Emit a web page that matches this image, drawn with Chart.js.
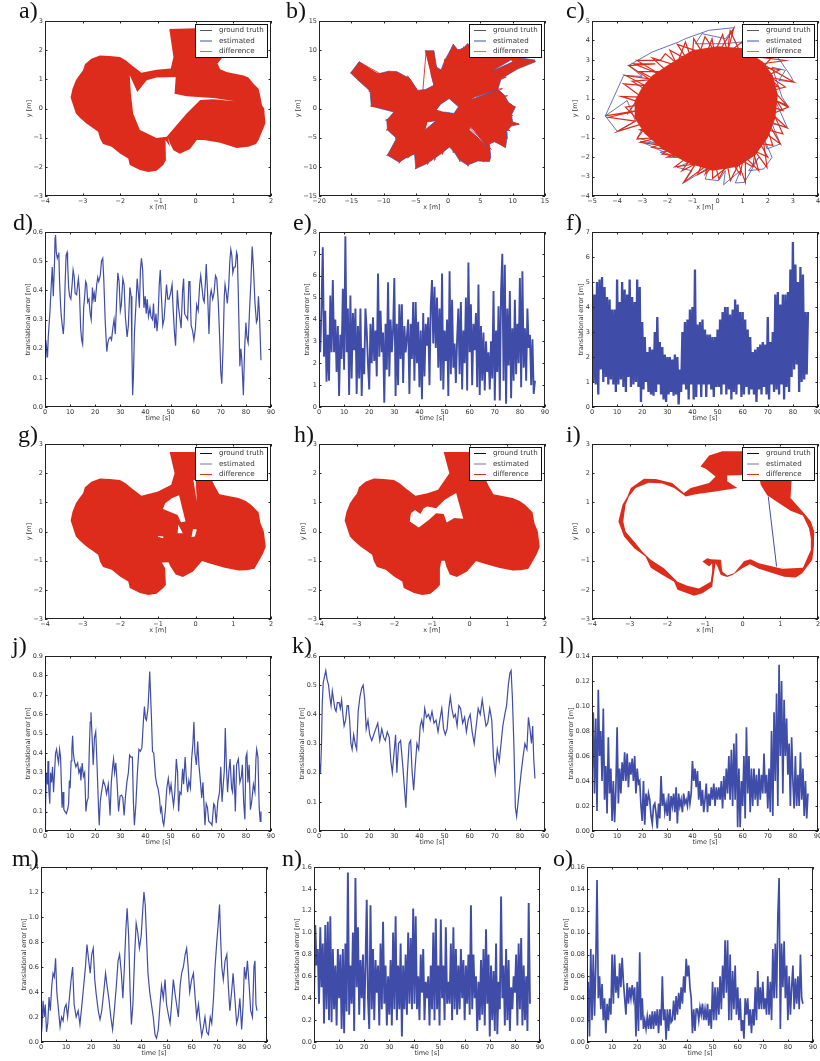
<!DOCTYPE html>
<html><head><meta charset="utf-8">
<script src="https://cdn.jsdelivr.net/npm/chart.js@4"></script>
<style>
html,body{margin:0;padding:0;background:#fff}
#page{position:relative;width:820px;height:1061px;overflow:hidden}
canvas{position:absolute}
.tag{position:absolute;font:24px/24px "Liberation Serif",serif;color:#111;white-space:nowrap}
</style></head><body><div id="page"></div>
<script>
const LEGEND_LABELS=['ground truth','estimated','difference'];
const AXIS_TIME='time [s]',AXIS_ERR='translational error [m]',AXIS_X='x [m]',AXIS_Y='y [m]';
const T_END=86;

const LEFT_LOBE=[[-0.86,-1.94],[-1.04,-2.13],[-1.26,-2.18],[-1.48,-2.11],[-1.75,-1.94],[-1.79,-1.71],[-2.01,-1.54],[-2.23,-1.31],[-2.46,-1.22],[-2.54,-1.03],[-2.59,-0.80],[-2.72,-0.68],[-2.90,-0.51],[-3.08,-0.31],[-3.18,-0.17],[-3.32,0.38],[-3.27,0.68],[-3.18,0.97],[-3.09,1.14],[-2.99,1.31],[-2.94,1.52],[-2.77,1.71],[-2.54,1.82],[-2.28,1.80],[-2.01,1.77],[-1.85,1.65],[-1.70,1.48],[-1.44,1.23]];
const A_OUTER=[[-0.70,2.73],[0.03,2.75],[0.72,2.75],[0.72,1.77],[0.58,1.54],[0.65,1.35],[0.82,1.25],[1.27,1.13],[1.40,1.06],[1.53,0.86],[1.67,0.68],[1.71,0.46],[1.76,0.11],[1.82,0],[1.85,-0.51],[1.76,-0.80],[1.67,-1.08],[1.60,-1.22],[1.40,-1.31],[1.09,-1.35],[0.65,-1.17],[0.22,-1.08],[0.03,-1.08],[-0.15,-1.39],[-0.42,-1.55],[-0.59,-1.43],[-0.68,-1.20],[-0.74,-0.99],[-0.68,-1.31],[-0.80,-1.08],[-0.79,-1.77],...LEFT_LOBE,[-1.04,1.33],[-0.66,1.37],[-0.59,1.77]];
const A_HOLE=[[-1.75,1.14],[-1.55,0.57],[-1.30,0.97],[-1.04,1.06],[-0.53,1.08],[-0.56,0.51],[-0.24,0.42],[0.47,0.36],[1.05,0.25],[0.47,0.32],[0.12,0.29],[-0.24,-0.17],[-0.77,-0.97],[-1.04,-1.01],[-1.48,-0.74],[-1.66,-0.17],[-1.72,0.51]];

const B_OUTER=[[-3.6,9.9],[-2.2,9.9],[-1.8,7.1],[-1.1,6.6],[-0.5,8.3],[0.05,9.4],[0.8,11.0],[1.55,10.0],[2.4,10.4],[3.0,11.1],[4.6,10.0],[6.1,9.7],[8.7,9.1],[13.4,8.3],[13.5,8.0],[10.8,6.8],[8.2,5.1],[7.7,3.3],[8.7,2.3],[9.3,1.1],[10.4,0.2],[9.8,-1.1],[10.0,-2.3],[11.0,-2.7],[9.8,-3.0],[9.0,-4.0],[9.1,-5.1],[8.9,-6.6],[7.2,-5.7],[6.4,-6.1],[6.6,-8.3],[6.4,-9.1],[4.6,-9.0],[3.0,-9.7],[1.7,-8.8],[0.9,-7.4],[0.2,-6.6],[-0.9,-7.6],[-3.2,-9.4],[-5.0,-10.3],[-5.2,-7.8],[-6.3,-8.3],[-7.6,-9.2],[-9.4,-8.0],[-8.0,-5.1],[-9.4,-3.7],[-9.5,-2.0],[-8.4,-0.6],[-11.9,0.4],[-12.1,3.0],[-14.2,5.1],[-15.1,6.1],[-13.8,8.0],[-11.0,5.9],[-9.2,6.4],[-7.9,6.3],[-5.9,5.1],[-4.8,3.1],[-3.5,3.25],[-2.2,4.0],[-2.7,6.0]];
const B_HOLE=[[-1.8,-0.2],[-1.15,0.75],[0.15,1.7],[1.6,0.3],[0.9,-0.85],[-0.6,-0.6]];
const B_GAP_1=[[-3.2,-2.3],[-1.9,-2.1],[-3.5,-3.6]];
const B_GAP_2=[[3.5,1.5],[7.7,3.25],[4.3,2.0]];
const B_GAP_3=[[3.5,-3.1],[6.1,-6.6],[3.3,-3.7]];
const B_GAP_4=[[9.7,8.3],[6.6,6.3],[10.0,8.0]];
const B_RAYS=[[-15.1,6.1],[-10,4],[-14,7.6],[-9,4.5],[-13.8,8],[-9,5],[-12.5,6.8],[-8,4],[-10.5,6],[-7,3.5],[-9.2,6.4],[-6.5,3],[-8,6.3],[-5,2],[-6.3,5.6],[-4,2],[-3.4,9.9],[-2,3],[-2.5,9.9],[-1,3],[-0.5,8.5],[0,3],[0.8,11],[0.5,3],[1.6,10.2],[1,3],[2.4,10.6],[1.5,3],[3,11.1],[2,3],[4.6,10.3],[3,3],[6,9.9],[4,3],[8.5,9.3],[5,3.5],[11,8.8],[5,4],[13.4,8.3],[5.5,4.5],[9.0,5.4],[4,3],[8.4,3.4],[4,1],[9.2,2.2],[4,.5],[10.4,.3],[4,0],[10,-1.2],[4,-.5],[11,-2.7],[4,-1.2],[9.6,-3.8],[4,-2],[9.2,-5.1],[3,-2],[8.9,-6.7],[3,-3],[6.7,-7],[3,-3.5],[6.6,-8.5],[2.5,-3],[5.5,-9.2],[2,-3],[3.1,-9.9],[1.5,-3],[1.8,-9.1],[1,-3],[0.8,-7.6],[.5,-3],[-.9,-7.9],[-.5,-3],[-2.1,-8.9],[-1,-3],[-3.2,-9.6],[-1.5,-3.5],[-5.1,-10.4],[-2,-4.5],[-6.3,-8.5],[-4,-4],[-7.6,-9.4],[-5,-3],[-9.5,-8.1],[-5,-2],[-8.2,-5.2],[-5,-1.5],[-9.6,-3.7],[-5,-1],[-9.7,-2],[-5,0],[-12,0.4],[-5,1],[-12.3,3],[-5,1.5],[-14,5],[-5,2],[-15.1,6.1]];

const C_CORE=[[-3.3,0.9],[-3.0,1.6],[-2.6,2.2],[-1.9,2.8],[-1.0,3.5],[0,3.7],[1.0,3.6],[1.8,2.9],[2.2,2.2],[2.4,1.2],[2.3,0],[2.0,-1.0],[1.5,-1.9],[0.8,-2.5],[-0.2,-2.7],[-1.2,-2.3],[-2.2,-1.6],[-2.9,-0.8],[-3.3,0]];
const C_ESTIMATED=[[-4.47,0.12],[-4.0,-0.67],[-3.27,-0.15],[-3.6,0.91],[-4.47,0.12],[-3.74,2.2],[-3.0,2.15],[-3.54,2.71],[-2.61,3.4],[-1.55,3.92],[-1.28,4.09],[-0.35,4.52],[0.67,4.66],[0.31,4.09],[-0.62,4.35],[-0.88,3.83],[0.18,3.83],[0.97,3.92],[1.11,3.4],[1.64,3.83],[2.44,3.06],[2.9,2.2],[3.03,1.86],[2.44,1.94],[2.7,2.46],[2.17,2.63],[2.57,1.08],[2.81,0.6],[2.3,0.91],[2.77,-0.46],[2.17,-0.29],[2.5,-1.32],[1.97,-1.58],[1.77,-0.81],[2.17,-2.01],[1.84,-2.61],[1.24,-2.7],[1.64,-2.01],[1.07,-3.3],[0.71,-3.33],[0.91,-2.7],[0.24,-3.42],[0.31,-2.7],[0.04,-3.21],[-0.49,-3.13],[-0.35,-2.53],[-1.35,-3.33],[-1.02,-2.7],[-1.61,-2.53],[-1.15,-2.27],[-1.95,-1.67],[-2.28,-1.75],[-1.68,-2.01],[-3.07,-1.19],[-2.34,-1.32],[-3.2,-1.01],[-2.88,-0.29],[-3.27,-0.03]];
const C_DIFFERENCE=[[-4.47,0.12],[-3.14,0.4],[-4.34,0.05],[-3.27,-0.15],[-3.97,-0.67],[-3.01,-0.29],[-3.67,0.57],[-2.88,0.74],[-3.83,1.12],[-3.01,1.08],[-3.74,1.77],[-2.88,1.68],[-3.67,2.2],[-2.74,2.03],[-3.54,2.71],[-2.48,2.8],[-3.34,2.8],[-2.34,2.29],[-3.21,2.97],[-2.28,2.97],[-2.08,3.32],[-1.61,2.8],[-1.28,3.92],[-1.02,2.97],[-0.95,4.09],[-0.49,3.14],[-0.22,4.09],[-0.09,3.14],[0.64,4.6],[0.38,3.32],[0.97,3.92],[1.11,3.23],[2.7,2.97],[1.77,2.8],[3.03,1.86],[2.04,2.11],[2.44,1.6],[1.97,1.77],[2.77,0.65],[2.04,1.08],[2.81,0.57],[2.17,0.22],[2.77,-0.5],[1.97,-0.12],[2.5,-1.32],[1.77,-0.64],[1.97,-2.53],[1.37,-1.49],[1.64,-2.7],[1.11,-2.01],[1.11,-3.3],[0.84,-2.35],[0.51,-3.21],[0.38,-2.35],[0.05,-3.13],[-0.09,-2.35],[-0.49,-2.87],[-0.35,-2.35],[-1.35,-3.3],[-0.88,-2.35],[-1.42,-2.7],[-1.02,-2.01],[-2.21,-1.84],[-1.81,-1.49],[-3.07,-1.24],[-2.34,-0.98],[-3.21,-1.07],[-2.88,-0.46]];
const C_DIFFERENCE_2=[[-3.6,0.2],[-2.9,1.5],[-3.4,1.9],[-2.5,2.0],[-3.1,2.4],[-2.0,2.4],[-2.6,3.1],[-1.6,2.7],[-1.9,3.5],[-1.2,3.0],[-1.6,3.8],[-0.7,3.4],[-0.5,4.2],[-0.1,3.4],[0.2,4.3],[0.4,3.4],[0.5,4.5],[0.9,3.4],[1.3,4.1],[1.4,3.1],[2.2,3.2],[1.8,2.6],[2.5,2.5],[2.0,2.2],[2.7,1.6],[2.1,1.4],[2.6,0.4],[2.1,0.6],[2.6,-0.8],[2.0,-0.6],[2.2,-1.4],[1.7,-1.3],[2.0,-2.0],[1.5,-1.7],[1.4,-2.5],[1.0,-2.2],[0.9,-2.9],[0.6,-2.3],[-0.2,-3.1],[-0.2,-2.5],[-0.8,-2.9],[-0.6,-2.3],[-1.7,-2.5],[-1.2,-2.0],[-2.0,-2.0],[-1.5,-1.7],[-2.6,-1.5],[-2.0,-1.2],[-3.1,-0.6],[-2.6,-0.5]];

const G_OUTER=[[-0.69,2.73],[0.56,2.73],[0.43,1.77],[0.51,1.55],[0.63,1.28],[1.14,1.15],[1.33,1.05],[1.47,0.92],[1.67,0.66],[1.72,0.29],[1.81,0],[1.86,-0.52],[1.78,-0.78],[1.72,-0.92],[1.56,-1.28],[1.36,-1.33],[1.14,-1.34],[0.77,-1.24],[0.35,-1.09],[0.17,-1.01],[-0.07,-1.37],[-0.34,-1.56],[-0.53,-1.47],[-0.67,-1.20],[-0.72,-1.05],[-0.90,-1.06],[-0.81,-1.26],[-0.79,-1.83],...LEFT_LOBE,[-1.00,1.37],[-0.65,1.60],[-0.56,2.00]];
const G_HOLE=[[-0.44,1.24],[-0.27,0.34],[-0.39,0.32],[-0.48,0.57],[-0.87,0.77],[-0.81,0.97],[-0.62,1.15]];
const G_GAP_1=[[-0.46,0.23],[-0.34,-0.06],[-0.48,-0.06]];
const G_GAP_2=[[-0.07,0.09],[0.03,0.07],[-0.02,-0.17],[-0.11,-0.19]];
const G_GAP_3=[[-1.0,-0.15],[-0.86,-0.17],[-0.86,-0.23],[-1.0,-0.18]];
const G_GAP_4=[[0,1.77],[0.03,1.03],[-0.06,1.77]];

const H_OUTER=[[-0.69,2.73],[0.56,2.73],[0.43,1.77],[0.51,1.55],[0.63,1.28],[1.14,1.15],[1.33,1.05],[1.47,0.92],[1.67,0.66],[1.72,0.29],[1.81,0],[1.86,-0.52],[1.78,-0.78],[1.72,-0.92],[1.56,-1.28],[1.36,-1.33],[1.14,-1.34],[0.77,-1.24],[0.35,-1.09],[0.17,-1.01],[-0.07,-1.37],[-0.34,-1.56],[-0.53,-1.47],[-0.62,-1.20],[-0.66,-1.0],[-0.75,-1.0],[-0.79,-1.26],[-0.79,-1.83],...LEFT_LOBE,[-1.12,1.31],[-0.84,1.43],[-0.54,2.0]];
const H_HOLE=[[-0.36,1.32],[-0.17,0.44],[-0.41,0.46],[-0.61,0.31],[-0.69,0.60],[-0.89,0.63],[-1.08,0.40],[-1.35,0.14],[-1.59,0.34],[-1.56,0.63],[-1.45,0.74],[-1.31,0.60],[-1.22,0.80],[-1.12,0.86],[-0.89,0.80],[-0.66,1.09]];

const I_OUTER=[[-1.12,2.23],[-0.89,2.61],[-0.54,2.75],[0.43,2.75],[1.30,1.77],[1.27,1.15],[1.63,0.63],[1.81,0.34],[1.90,0],[1.89,-0.52],[1.85,-0.97],[1.58,-1.43],[1.41,-1.58],[1.10,-1.55],[0.43,-1.28],[0.19,-1.12],[-0.01,-1.26],[-0.27,-1.49],[-0.41,-1.56],[-0.58,-1.49],[-0.67,-1.20],[-0.72,-1.09],[-0.76,-1.43],[-0.81,-1.89],[-1.07,-2.12],[-1.29,-2.20],[-1.73,-2.00],[-1.82,-1.72],[-2.13,-1.49],[-2.44,-1.24],[-2.58,-0.86],[-2.88,-0.57],[-3.15,-0.17],[-3.30,0.34],[-3.19,0.92],[-3.06,1.20],[-2.97,1.49],[-2.62,1.81],[-2.31,1.80],[-1.87,1.66],[-1.56,1.32],[-1.38,1.49],[-0.89,1.66],[-0.72,1.89],[-0.98,2.15]];
const I_HOLE=[[0.65,1.24],[1.27,0.71],[1.60,0.55],[1.76,0.11],[1.81,-0.23],[1.81,-0.63],[1.60,-1.24],[1.05,-1.28],[0.43,-1.09],[0.21,-0.95],[0.04,-1.01],[-0.23,-1.43],[-0.41,-1.51],[-0.54,-1.37],[-0.58,-0.97],[-0.85,-0.95],[-0.94,-0.92],[-1.07,-1.03],[-0.89,-1.20],[-0.81,-1.09],[-0.81,-1.37],[-0.85,-1.72],[-1.16,-1.95],[-1.47,-1.86],[-1.73,-1.72],[-2.09,-1.26],[-2.44,-0.97],[-2.66,-0.69],[-2.88,-0.34],[-3.11,0],[-3.17,0.34],[-3.11,0.92],[-3.02,1.20],[-2.84,1.49],[-2.49,1.67],[-2.13,1.65],[-1.82,1.49],[-1.51,1.20],[-1.25,1.28],[-0.72,1.37],[-0.14,1.49],[-0.41,1.72],[-0.41,1.92],[0.43,1.95],[0.48,1.60]];
const I_ESTIMATED=[[0.68,1.20],[0.90,-1.20]];

const D_SERIES=[[0,.17],[.3,.23],[.7,.2],[1,.17],[1.3,.24],[2,.33],[2.5,.42],[2.9,.48],[3.3,.38],[3.8,.5],[4,.58],[4.2,.59],[4.5,.53],[4.9,.51],[5.2,.52],[5.5,.53],[5.8,.43],[6.2,.35],[6.5,.31],[7,.27],[7.3,.25],[7.6,.29],[8,.42],[8.4,.52],[8.8,.53],[9,.5],[9.4,.41],[9.8,.38],[10.3,.37],[10.8,.42],[11.2,.47],[11.6,.45],[12,.39],[12.6,.385],[13,.42],[13.3,.44],[13.7,.4],[14.2,.27],[14.6,.23],[15,.215],[15.4,.34],[15.8,.38],[16.2,.43],[16.6,.42],[17,.36],[17.5,.37],[18,.32],[18.4,.3],[18.9,.41],[19.2,.37],[19.6,.39],[20,.36],[20.6,.42],[21,.445],[21.4,.43],[22,.45],[22.5,.5],[23,.51],[23.4,.44],[24,.29],[24.6,.19],[25,.22],[25.5,.235],[26,.24],[26.5,.23],[27,.27],[27.5,.3],[28,.25],[28.5,.36],[29,.46],[29.5,.43],[30,.33],[30.4,.35],[31,.44],[31.5,.42],[32,.31],[32.7,.24],[33.2,.28],[33.8,.41],[34.3,.38],[34.6,.2],[34.9,.04],[35.2,.1],[35.6,.25],[36.2,.35],[36.7,.44],[37.2,.39],[37.6,.34],[38,.47],[38.4,.51],[38.9,.47],[39.4,.34],[39.9,.38],[40.3,.32],[40.7,.37],[41.2,.31],[41.8,.34],[42.2,.31],[42.8,.3],[43.2,.355],[43.7,.27],[44.2,.32],[44.6,.26],[45,.3],[45.5,.42],[45.9,.47],[46.3,.39],[46.9,.28],[47.4,.3],[47.9,.36],[48.4,.42],[48.9,.37],[49.4,.37],[50,.39],[50.6,.42],[51,.34],[51.6,.25],[52,.21],[52.7,.4],[53.2,.34],[53.8,.3],[54.2,.27],[54.8,.4],[55.2,.44],[55.6,.32],[56.2,.31],[56.8,.3],[57.3,.43],[57.7,.43],[58.2,.28],[58.8,.26],[59.3,.23],[59.9,.27],[60.4,.35],[61,.33],[61.6,.42],[62,.45],[62.5,.41],[63,.37],[63.4,.36],[63.9,.43],[64.2,.49],[64.7,.4],[65.3,.25],[65.8,.38],[66.2,.4],[66.8,.37],[67.3,.39],[67.9,.45],[68.4,.44],[69,.36],[69.5,.25],[70,.12],[70.4,.08],[70.9,.2],[71.4,.38],[71.7,.42],[72.2,.39],[72.6,.355],[73.2,.42],[73.6,.5],[74,.54],[74.4,.52],[74.8,.46],[75.3,.48],[75.8,.48],[76.3,.53],[76.6,.52],[77,.38],[77.6,.14],[78,.2],[78.4,.16],[78.8,.08],[79,.04],[79.5,.2],[80,.29],[80.4,.24],[80.9,.22],[81.4,.32],[82,.43],[82.5,.55],[83,.48],[83.6,.36],[84.2,.29],[84.6,.3],[85,.38],[85.4,.32],[86,.16]];

const J_SERIES=[[0,.03],[.2,.12],[.5,.3],[1,.24],[1.2,.36],[1.5,.22],[1.9,.14],[2.2,.3],[2.6,.25],[3,.33],[3.4,.2],[3.8,.3],[4.2,.4],[4.6,.42],[5,.38],[5.4,.35],[5.8,.42],[6.2,.38],[6.8,.12],[7.2,.2],[7.5,.11],[8,.1],[8.5,.09],[9,.11],[9.4,.14],[9.7,.26],[10,.22],[10.4,.36],[10.7,.42],[11,.49],[11.3,.4],[11.7,.36],[12.3,.33],[13,.35],[13.5,.3],[14,.32],[14.3,.26],[14.8,.35],[15.3,.28],[15.8,.3],[16.3,.1],[16.7,.15],[17.2,.17],[17.6,.4],[18,.56],[18.3,.61],[18.7,.5],[19.2,.34],[19.7,.48],[20.2,.51],[20.7,.35],[21.3,.12],[21.6,.03],[22,.15],[22.5,.2],[23.2,.26],[24,.23],[24.5,.19],[25.2,.24],[25.9,.08],[26.4,.25],[27,.34],[27.3,.37],[27.7,.3],[28.2,.35],[28.7,.25],[29.3,.1],[29.9,.18],[30.5,.185],[31,.17],[31.5,.08],[32,.17],[32.6,.25],[33.2,.3],[33.7,.39],[34.2,.38],[34.8,.38],[35.2,.15],[35.6,.03],[36.2,.14],[36.8,.3],[37.4,.42],[38,.41],[38.6,.43],[39.2,.57],[39.6,.64],[40,.58],[40.4,.57],[41,.63],[41.4,.73],[41.7,.82],[42,.72],[42.4,.58],[42.8,.41],[43.3,.4],[44,.28],[44.5,.24],[45,.22],[45.6,.17],[46,.1],[46.4,.12],[46.9,.05],[47.3,.03],[47.9,.1],[48.5,.22],[49.1,.27],[49.7,.2],[50.2,.24],[50.8,.17],[51.2,.13],[51.7,.2],[52.3,.37],[52.8,.3],[53.2,.1],[53.7,.2],[54.2,.19],[54.8,.32],[55.2,.24],[55.8,.38],[56.3,.27],[56.8,.2],[57.3,.26],[57.9,.22],[58.4,.37],[58.9,.45],[59.3,.56],[59.7,.4],[60.3,.34],[60.8,.46],[61.3,.34],[62,.24],[62.4,.17],[62.9,.25],[63.7,.03],[64.2,.14],[64.7,.12],[65.2,.05],[66,.04],[66.5,.03],[67.2,.14],[67.6,.13],[68.2,.04],[68.8,.15],[69.5,.2],[70,.33],[70.5,.15],[71,.24],[71.4,.31],[71.8,.53],[72.2,.35],[72.7,.2],[73.2,.3],[73.7,.37],[74.3,.22],[74.7,.2],[75.2,.34],[75.8,.1],[76.3,.34],[77,.37],[77.6,.25],[78.2,.28],[78.6,.34],[79.1,.15],[79.6,.06],[80,.38],[80.4,.4],[80.8,.25],[81.3,.34],[81.8,.11],[82.3,.15],[83,.24],[83.6,.2],[84,.37],[84.3,.42],[84.8,.38],[85.3,.12],[85.7,.05],[86,.1]];

const K_SERIES=[[0,.2],[.3,.23],[.6,.2],[1,.3],[1.3,.44],[1.7,.51],[2.2,.53],[2.7,.55],[3.2,.52],[3.8,.5],[4.3,.46],[4.8,.43],[5.3,.48],[5.8,.45],[6.3,.42],[6.8,.41],[7.3,.44],[8,.44],[8.5,.42],[9,.45],[9.5,.4],[10,.36],[10.6,.38],[11.2,.43],[11.7,.43],[12.2,.38],[12.7,.3],[13.2,.28],[13.8,.33],[14.4,.3],[15,.28],[15.6,.41],[16.3,.46],[17,.49],[17.6,.5],[18.2,.45],[18.8,.35],[19.5,.38],[20.2,.33],[21,.31],[21.8,.33],[22.6,.35],[23.4,.37],[24.2,.31],[25,.35],[25.8,.32],[26.4,.31],[27.2,.34],[28,.32],[28.6,.24],[29.2,.2],[29.8,.26],[30.5,.33],[31,.2],[31.7,.3],[32.5,.31],[33.3,.23],[34,.15],[34.6,.08],[35.2,.2],[35.9,.3],[36.5,.31],[37.1,.2],[37.7,.14],[38.3,.22],[39,.3],[39.7,.28],[40.3,.36],[40.9,.38],[41.5,.35],[42.1,.42],[42.8,.39],[43.6,.4],[44.3,.38],[45,.41],[45.8,.37],[46.6,.38],[47.4,.34],[48.1,.38],[48.9,.42],[49.6,.35],[50.3,.33],[51,.35],[51.7,.42],[52.3,.46],[52.9,.42],[53.6,.39],[54.3,.4],[55,.36],[55.7,.43],[56.4,.42],[57.2,.37],[58,.39],[58.7,.34],[59.4,.38],[60.2,.4],[61,.34],[61.8,.3],[62.6,.36],[63.4,.42],[64.2,.4],[65,.45],[65.8,.4],[66.5,.36],[67.2,.37],[68,.42],[68.8,.38],[69.5,.25],[70.2,.2],[71,.28],[71.8,.24],[72.5,.3],[73.2,.36],[74,.4],[74.7,.43],[75.4,.5],[76,.54],[76.5,.55],[77,.46],[77.6,.3],[78.2,.08],[78.7,.05],[79.3,.1],[79.9,.15],[80.5,.2],[81.2,.25],[82,.3],[82.8,.28],[83.4,.39],[84,.35],[84.6,.3],[85.1,.36],[85.5,.25],[86,.18]];

const M_SERIES=[[0,.03],[.4,.12],[.8,.33],[1.3,.2],[1.7,.3],[2.2,.08],[2.7,.15],[3.2,.36],[3.7,.25],[4.3,.45],[4.8,.55],[5.3,.52],[5.8,.67],[6.3,.4],[7,.25],[7.6,.12],[8.2,.2],[8.8,.17],[9.4,.27],[10,.3],[10.6,.2],[11.3,.35],[12,.5],[12.6,.6],[13.2,.3],[14,.2],[14.8,.25],[15.5,.14],[16.3,.3],[17,.45],[17.7,.6],[18.3,.78],[19,.65],[19.6,.55],[20.2,.7],[20.8,.75],[21.4,.5],[22,.38],[22.8,.25],[23.5,.18],[24.2,.25],[25,.4],[25.7,.55],[26.3,.45],[27,.35],[27.8,.2],[28.5,.1],[29.2,.25],[30,.45],[30.7,.65],[31.3,.7],[32,.55],[32.6,.35],[33.2,.6],[33.8,.9],[34.3,1.07],[34.9,.85],[35.5,.4],[36,.14],[36.6,.3],[37.3,.7],[37.9,.95],[38.5,.88],[39.2,.75],[39.9,.85],[40.5,1.05],[41,1.2],[41.5,1.1],[42,.85],[42.6,.55],[43.3,.4],[44,.3],[44.7,.2],[45.4,.06],[46,.03],[46.7,.1],[47.4,.3],[48,.45],[48.7,.35],[49.4,.5],[50,.3],[50.7,.22],[51.4,.15],[52,.3],[52.7,.5],[53.3,.4],[54,.3],[54.7,.2],[55.4,.45],[56,.55],[56.7,.6],[57.4,.7],[58,.75],[58.6,.6],[59.2,.4],[60,.5],[60.7,.55],[61.4,.35],[62,.2],[62.7,.3],[63.4,.15],[64,.05],[64.7,.12],[65.3,.2],[66,.08],[66.7,.06],[67.4,.2],[68,.15],[68.7,.35],[69.3,.6],[70,.8],[70.6,.95],[71.1,1.1],[71.5,.85],[72,.6],[72.6,.5],[73.3,.65],[74,.7],[74.6,.45],[75.2,.25],[75.9,.4],[76.5,.55],[77.2,.35],[77.9,.15],[78.5,.2],[79.2,.35],[79.9,.1],[80.5,.3],[81,.6],[81.6,.5],[82.2,.65],[82.9,.45],[83.5,.25],[84.2,.2],[84.8,.6],[85.2,.65],[85.6,.3],[86,.25]];

const E_ERROR=[3.6,2.5,4.6,7.3,2.3,4.4,1.15,3.3,1.2,5.1,2.5,5.8,2.5,4.0,1.6,3.7,0.5,3.3,2.2,5.4,
1.7,7.8,2.5,4.5,0.55,5.1,1.3,4.3,2.6,4.5,0.6,3.7,1.3,4.5,0.5,2.7,1.5,4.5,3.5,2.0,
0.8,3.8,2.0,4.1,2.1,3.5,1.4,6.1,2.3,4.4,2.5,3.4,0.2,3.8,1.7,5.7,1.4,4.0,2.5,3.5,
5.9,0.5,3.8,1.0,4.7,2.2,4.7,1.1,3.7,2.5,3.2,4.0,0.6,3.8,2.2,4.8,1.2,4.8,2.0,3.9,
0.9,3.5,0.35,4.3,1.4,3.8,2.8,4.1,1.0,4.6,5.8,2.9,5.5,2.7,5.0,1.8,4.5,1.2,6.1,0.8,
3.5,2.1,4.0,0.5,6.2,1.5,4.9,1.8,2.9,1.1,3.1,4.5,1.5,4.8,0.8,3.5,2.0,5.0,0.75,6.6,
2.5,4.7,1.0,3.8,2.6,4.3,0.9,5.6,0.55,3.7,1.2,3.4,0.75,3.0,1.6,2.5,0.8,3.0,1.3,5.3,
0.3,3.5,1.6,4.6,0.3,5.3,7.0,1.2,6.5,0.15,4.5,1.9,5.3,0.4,3.6,1.2,4.9,1.5,3.8,2.0,
5.9,0.9,6.2,1.8,3.6,1.2,4.5,2.7,3.3,1.0,3.1,0.6,1.2];

const F_ERROR=[4.8,1.0,4.5,0.9,5.0,0.5,5.1,1.5,5.2,1.0,4.8,1.2,4.4,0.9,4.3,1.1,3.9,0.9,3.9,0.6,
5.1,0.9,4.2,1.1,5.0,0.8,4.7,0.6,4.5,1.2,5.1,0.8,4.4,0.9,4.2,1.0,5.1,0.8,4.8,0.2,
3.4,0.7,2.8,1.0,2.2,0.6,2.4,0.5,2.3,0.45,3.0,0.6,3.6,0.9,2.6,0.5,2.4,0.3,2.1,0.2,
2.0,0.5,2.0,0.6,1.9,0.45,2.1,0.5,2.0,0.1,1.5,0.6,3.0,0.9,3.4,0.7,3.5,0.3,3.9,0.9,
4.0,0.3,5.5,0.4,3.3,0.9,3.4,0.4,3.5,0.9,3.1,0.4,2.9,0.9,2.9,0.7,2.8,0.4,2.8,0.8,
3.1,0.8,3.5,0.5,3.8,0.9,4.0,0.5,4.0,0.7,3.7,0.3,3.9,0.6,4.3,0.5,4.1,0.9,3.8,0.4,
3.8,0.5,3.5,0.8,3.1,0.5,2.8,0.7,2.2,0.5,2.3,0.2,2.4,0.7,2.5,0.5,2.6,0.8,2.5,0.5,
3.6,0.3,2.6,0.9,3.0,0.6,4.5,0.7,4.6,0.5,4.1,0.9,4.5,0.3,4.5,0.8,4.6,0.6,5.5,1.2,
6.6,1.5,5.7,1.7,5.0,0.6,5.6,1.0,5.3,1.1,3.8,1.3,3.8];

const L_ERROR=[.04,.095,.03,.09,.016,.113,.06,.08,.04,.098,.025,.052,.014,.075,.03,.05,.008,.04,.007,.033,
.083,.022,.05,.03,.055,.04,.063,.04,.062,.035,.055,.045,.058,.04,.06,.03,.05,.038,.04,.02,
.008,.04,.005,.03,.02,.03,.025,.012,.006,.02,.022,.014,.002,.022,.01,.044,.02,.03,.015,.022,
.012,.03,.008,.028,.02,.03,.015,.035,.006,.03,.02,.025,.015,.03,.022,.025,.02,.032,.022,.03,
.056,.04,.05,.035,.048,.025,.04,.02,.033,.015,.025,.038,.015,.03,.02,.035,.025,.038,.02,.035,
.025,.035,.025,.04,.018,.044,.025,.05,.03,.06,.025,.065,.02,.07,.025,.078,.003,.05,.003,.04,
.02,.06,.01,.083,.03,.06,.015,.05,.02,.05,.025,.045,.02,.05,.025,.045,.03,.062,.03,.045,
.018,.05,.015,.08,.012,.095,.04,.11,.02,.133,.06,.12,.03,.105,.06,.09,.045,.07,.02,.075,
.04,.018,.06,.02,.045,.02,.063,.025,.05,.012,.04,.01,.03];

const N_ERROR=[.4,1.07,.7,.85,.35,1.05,.5,.9,.17,1.07,.3,1.1,.2,1.15,.18,.85,.3,.7,.15,.85,
.4,.8,.12,.85,.08,.9,.28,1.55,.25,.7,.35,1.0,.1,1.5,.5,1.05,.25,.75,.4,.8,
.2,.7,1.3,.4,.12,1.25,.3,.85,.2,.75,.45,.7,.15,.9,.3,1.1,.35,.7,.15,.6,
.25,.75,.15,1.0,.3,1.15,.2,.7,.3,.9,.05,.7,.3,.8,.25,1.0,.35,.95,.3,1.22,
.35,1.15,.3,.6,.2,.8,.45,.85,.2,.55,.4,.6,.15,.7,.3,1.0,.2,1.13,.3,.7,
.15,1.12,.4,.7,.2,1.05,.35,.55,.35,.9,.2,1.05,.3,.85,.25,.7,.3,.85,.4,.75,
.2,.7,.35,.8,.25,1.25,.3,.8,.4,.6,.1,.55,.2,.75,.25,.85,.15,1.03,.35,.8,
.05,.7,.2,.65,.1,.9,.07,.55,.3,1.33,.4,.7,.15,.85,.2,.75,.1,.5,.3,.6,
.45,.8,.15,.9,.3,.95,.15,.7,.2,.6,.1,1.27,.35];

const O_ERROR=[.01,.055,.005,.085,.02,.08,.024,.07,.148,.04,.06,.03,.053,.02,.04,.008,.035,.02,.04,.025,
.08,.035,.08,.045,.06,.04,.072,.05,.077,.055,.04,.025,.054,.035,.05,.04,.052,.04,.05,.005,
.055,.01,.082,.02,.04,.012,.02,.012,.023,.012,.025,.012,.028,.012,.028,.015,.03,.008,.03,.015,
.06,.02,.03,.002,.03,.01,.03,.018,.02,.038,.02,.042,.025,.045,.03,.05,.035,.06,.045,.076,
.06,.07,.05,.04,.008,.03,.01,.03,.03,.02,.032,.025,.035,.02,.03,.02,.035,.015,.03,.012,
.055,.02,.05,.02,.05,.025,.06,.03,.07,.04,.093,.045,.093,.02,.08,.02,.065,.03,.07,.025,
.05,.02,.04,.01,.02,.003,.04,.025,.04,.015,.03,.008,.03,.015,.05,.02,.065,.03,.05,.03,
.055,.03,.04,.025,.06,.025,.055,.02,.085,.04,.09,.04,.115,.15,.012,.09,.05,.092,.04,.07,
.02,.06,.025,.05,.07,.03,.058,.035,.06,.03,.08,.04,.035];

const RED='#dd2c1c',BLUE='#3f4ca8';
const LEGEND_TOP=['#555555','#3f4fb0','#e8645a'];
const LEGEND_LOW=['#111111','#6a76c0','#e03020'];
const FONT='"DejaVu Sans",sans-serif';
const TICK_COLOR='#333';

const pts=a=>a.map(p=>({x:p[0],y:p[1]}));
const rings=(...rs)=>rs.flatMap((r,i)=>(i?[{x:null,y:null}]:[]).concat(pts(r)));
const timed=a=>a.map((v,i)=>({x:i*T_END/(a.length-1),y:v}));
const area=(rs,color,edge,ew)=>({data:rings(...rs),areaColor:color,showLine:true,spanGaps:false,borderColor:edge||color,borderWidth:ew||0,pointRadius:0});
const line=(data,color,w)=>({data,showLine:true,borderColor:color,borderWidth:w,pointRadius:0,tension:0});

const areaPlugin={id:'areaFill',beforeDatasetDraw(chart,args){
  const ds=chart.data.datasets[args.index];
  if(!ds.areaColor)return;
  const c=chart.ctx,ca=chart.chartArea;
  c.save();c.beginPath();c.rect(ca.left,ca.top,ca.width,ca.height);c.clip();
  c.beginPath();let start=true;
  args.meta.data.forEach(p=>{
    if(p.skip){c.closePath();start=true;return;}
    if(start){c.moveTo(p.x,p.y);start=false;}else c.lineTo(p.x,p.y);
  });
  c.closePath();c.fillStyle=ds.areaColor;c.fill('evenodd');c.restore();
}};
const framePlugin={id:'frameTicks',afterDraw(chart){
  const c=chart.ctx,a=chart.chartArea,sx=chart.scales.x,sy=chart.scales.y;
  c.save();c.strokeStyle='#222';c.lineWidth=1;
  c.strokeRect(a.left+.5,a.top+.5,a.width-1,a.height-1);
  c.beginPath();
  sx.ticks.forEach((t,i)=>{const x=Math.round(sx.getPixelForTick(i))+.5;c.moveTo(x,a.top);c.lineTo(x,a.top+2.5);c.moveTo(x,a.bottom);c.lineTo(x,a.bottom-2.5);});
  sy.ticks.forEach((t,i)=>{const y=Math.round(sy.getPixelForTick(i))+.5;c.moveTo(a.left,y);c.lineTo(a.left+2.5,y);c.moveTo(a.right,y);c.lineTo(a.right-2.5,y);});
  c.stroke();
  const pal=chart.options.plugins.frameTicks.palette;
  if(pal){
    const bx=a.right-75.5,by=a.top+3.5,bw=72,bh=33;
    c.fillStyle='#fff';c.fillRect(bx,by,bw,bh);
    c.strokeStyle='#111';c.strokeRect(bx,by,bw,bh);
    c.font='7.1px '+FONT;c.textBaseline='middle';c.textAlign='left';
    LEGEND_LABELS.forEach((t,i)=>{
      const y=by+6+i*10.5;
      c.strokeStyle=pal[i];c.beginPath();c.moveTo(bx+4.5,y);c.lineTo(bx+16.5,y);c.stroke();
      c.fillStyle='#333';c.fillText(t,bx+23.5,y);
    });
  }
  c.restore();
}};
Chart.register(areaPlugin,framePlugin);

const W=226,H=175,XH=15,PT=6,PR=8;
const panels=[
{tag:'a)',tx:19,ty:18,L:45,T:21,tw:15,x:[-4,2,1],y:[-3,3,1],dec:0,xt:AXIS_X,yt:AXIS_Y,pal:LEGEND_TOP,ds:[area([A_OUTER,A_HOLE],RED)]},
{tag:'b)',tx:286,ty:18,L:319,T:21,tw:20,x:[-20,15,5],y:[-15,15,5],dec:0,xt:AXIS_X,yt:AXIS_Y,pal:LEGEND_TOP,ds:[line(pts(B_RAYS),RED,.9),area([B_OUTER,B_HOLE,B_GAP_1,B_GAP_2,B_GAP_3,B_GAP_4],RED,BLUE,.7)]},
{tag:'c)',tx:566,ty:18,L:592,T:21,tw:16,x:[-5,4,1],y:[-4,5,1],dec:0,xt:AXIS_X,yt:AXIS_Y,pal:LEGEND_TOP,ds:[area([C_CORE],RED),line(pts(C_DIFFERENCE_2),RED,1.2),line(pts(C_DIFFERENCE),RED,1.2),line(pts(C_ESTIMATED),BLUE,.8)]},
{tag:'d)',tx:13,ty:230,L:45,T:232,tw:16,x:[0,90,10],y:[0,.6,.1],dec:1,xt:AXIS_TIME,yt:AXIS_ERR,ds:[line(pts(D_SERIES),BLUE,1.2)]},
{tag:'e)',tx:293,ty:230,L:319,T:232,tw:11,x:[0,90,10],y:[0,8,1],dec:0,xt:AXIS_TIME,yt:AXIS_ERR,ds:[line(timed(E_ERROR),BLUE,1.9)]},
{tag:'f)',tx:566,ty:230,L:592,T:232,tw:10,x:[0,90,10],y:[0,7,1],dec:0,xt:AXIS_TIME,yt:AXIS_ERR,ds:[line(timed(F_ERROR),BLUE,2.3)]},
{tag:'g)',tx:18,ty:442,L:45,T:444,tw:15,x:[-4,2,1],y:[-3,3,1],dec:0,xt:AXIS_X,yt:AXIS_Y,pal:LEGEND_LOW,ds:[area([G_OUTER,G_HOLE,G_GAP_1,G_GAP_2,G_GAP_3,G_GAP_4],RED)]},
{tag:'h)',tx:294,ty:442,L:319,T:444,tw:15,x:[-4,2,1],y:[-3,3,1],dec:0,xt:AXIS_X,yt:AXIS_Y,pal:LEGEND_LOW,ds:[area([H_OUTER,H_HOLE],RED)]},
{tag:'i)',tx:566,ty:442,L:592,T:444,tw:16,x:[-4,2,1],y:[-3,3,1],dec:0,xt:AXIS_X,yt:AXIS_Y,pal:LEGEND_LOW,ds:[area([I_OUTER,I_HOLE],RED),line(pts(I_ESTIMATED),BLUE,1)]},
{tag:'j)',tx:12,ty:653,L:45,T:656,tw:16,x:[0,90,10],y:[0,.9,.1],dec:1,xt:AXIS_TIME,yt:AXIS_ERR,ds:[line(pts(J_SERIES),BLUE,1.2)]},
{tag:'k)',tx:292,ty:653,L:319,T:656,tw:16,x:[0,90,10],y:[0,.6,.1],dec:1,xt:AXIS_TIME,yt:AXIS_ERR,ds:[line(pts(K_SERIES),BLUE,1.2)]},
{tag:'l)',tx:559,ty:653,L:592,T:656,tw:20,x:[0,90,10],y:[0,.14,.02],dec:2,xt:AXIS_TIME,yt:AXIS_ERR,ds:[line(timed(L_ERROR),BLUE,1.7)]},
{tag:'m)',tx:12,ty:866,L:41,T:867,tw:16,x:[0,90,10],y:[0,1.4,.2],dec:1,xt:AXIS_TIME,yt:AXIS_ERR,ds:[line(pts(M_SERIES),BLUE,1.2)]},
{tag:'n)',tx:282,ty:866,L:314,T:867,tw:16,x:[0,90,10],y:[0,1.6,.2],dec:1,xt:AXIS_TIME,yt:AXIS_ERR,ds:[line(timed(N_ERROR),BLUE,1.9)]},
{tag:'o)',tx:553,ty:866,L:587,T:867,tw:20,x:[0,90,10],y:[0,.16,.02],dec:2,xt:AXIS_TIME,yt:AXIS_ERR,ds:[line(timed(O_ERROR),BLUE,1.7)]}
];

const page=document.getElementById('page');
const fmt=d=>v=>Number(v).toFixed(d).replace('-','\u2212');
panels.forEach(p=>{
  const yw=p.tw+4;
  const cv=document.createElement('canvas');
  cv.width=yw+W+PR;cv.height=PT+H+XH;
  cv.style.left=(p.L-yw)+'px';cv.style.top=(p.T-PT)+'px';
  page.appendChild(cv);
  const tag=document.createElement('div');
  tag.className='tag';tag.textContent=p.tag;
  tag.style.left=p.tx+'px';tag.style.top=(p.ty-20)+'px';
  page.appendChild(tag);
  const tickFont={family:FONT,size:6.5};
  const titleFont={family:FONT,size:6.5,lineHeight:1};
  new Chart(cv.getContext('2d'),{
    type:'scatter',
    data:{datasets:p.ds},
    options:{
      responsive:false,animation:false,devicePixelRatio:1,
      layout:{padding:{top:PT,right:PR,left:0,bottom:0}},
      plugins:{legend:{display:false},tooltip:{enabled:false},frameTicks:{palette:p.pal||null}},
      scales:{
        x:{type:'linear',min:p.x[0],max:p.x[1],grid:{display:false,drawTicks:false},border:{display:false},
           ticks:{stepSize:p.x[2],autoSkip:false,maxRotation:0,padding:1,font:tickFont,color:TICK_COLOR,callback:fmt(0)},
           title:{display:true,text:p.xt,font:titleFont,color:TICK_COLOR,padding:0},
           afterFit(s){s.height=XH;}},
        y:{type:'linear',min:p.y[0],max:p.y[1],grid:{display:false,drawTicks:false},border:{display:false},
           ticks:{stepSize:p.y[2],autoSkip:false,padding:2,font:tickFont,color:TICK_COLOR,callback:fmt(p.dec)},
           title:{display:true,text:p.yt,font:titleFont,color:TICK_COLOR,padding:0},
           afterFit(s){s.width=yw;}}
      }
    }
  });
});
</script></body></html>
